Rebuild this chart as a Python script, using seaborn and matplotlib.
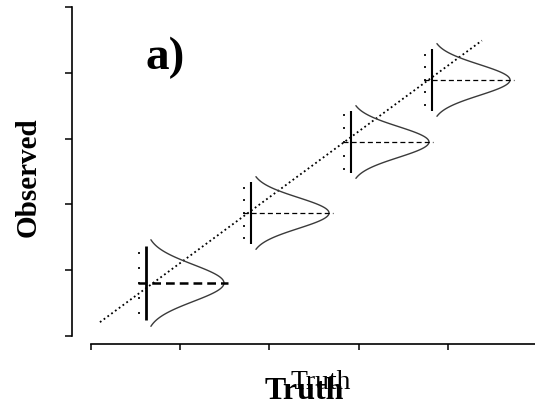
import numpy as np
import pandas as pd
import matplotlib
matplotlib.use("Agg")
import matplotlib.pyplot as plt
import seaborn as sns

# values (data units: x ticks 0..4, y ticks 0..5)
truth = [0.616, 1.793, 2.913, 3.821]        # where each density sits on the Truth axis
observed = [0.805, 1.869, 2.948, 3.891]     # mean of each observed distribution
spread = [0.28, 0.235, 0.235, 0.235]        # sd of each distribution
tick_step = [0.228, 0.193, 0.208, 0.19]     # spacing of the small dots beside each base
peak = [0.874, 0.874, 0.874, 0.874]         # height of each density curve (along x)
line_x = [0.10, 4.38]                       # extent of the 1:1 reference line
line_offset = 0.11
x_ticks = [0, 1, 2, 3, 4]
y_ticks = [0, 1, 2, 3, 4, 5]

sns.set_style("ticks")
plt.rcParams['font.family'] = ['Liberation Serif', 'DejaVu Serif']
plt.rcParams['text.color'] = 'black'
plt.rcParams['axes.labelcolor'] = 'black'

fig = plt.figure(figsize=(5.35, 4.09), dpi=100)
ax = fig.add_axes([72 / 535, (409 - 343.5) / 409, (535 - 72) / 535, (343.5 - 5) / 409])

# dotted 1:1 line
diag = pd.DataFrame({'x': line_x, 'y': [v + line_offset for v in line_x]})
sns.lineplot(data=diag, x='x', y='y', ax=ax, color='black', linestyle=(0, (1, 1.6)),
             linewidth=1.3)

for i in range(len(truth)):
    base, mu, sd = truth[i], observed[i], spread[i]
    z = np.linspace(-2.35, 2.35, 121)
    curve = pd.DataFrame({'y': mu + sd * z, 'x': base + peak[i] * np.exp(-0.5 * z ** 2)})
    sns.lineplot(data=curve, x='x', y='y', ax=ax, orient='y', sort=False,
                 color='#3a3a3a', linewidth=1.0)
    lo, hi = mu - 2.0 * sd, mu + 2.0 * sd
    ax.vlines(base, lo, hi, color='black', linewidth=2.0 if i == 0 else 1.5)
    ax.hlines(mu, base - 0.09, base + peak[i] + 0.04, color='black',
              linestyles=(0, (3.5, 2)) if i == 0 else (0, (4, 2.5)),
              linewidth=1.8 if i == 0 else 0.9)
    dots = pd.DataFrame({'x': [base - 0.08] * 5,
                         'y': [mu + k * tick_step[i] for k in (-2, -1, 0, 1, 2)]})
    sns.scatterplot(data=dots, x='x', y='y', ax=ax, marker='s', s=3.5,
                    color='#222222', linewidth=0)

ax.set_xlim(-0.213, 4.975)
ax.set_ylim(-0.114, 5.03)
ax.set_xticks(x_ticks)
ax.set_yticks(y_ticks)
ax.set_xticklabels([])
ax.set_yticklabels([])
ax.tick_params(axis='x', length=4, width=1.1, direction='out', color='black')
ax.tick_params(axis='y', length=5, width=1.1, direction='out', color='black')
sns.despine(ax=ax)
ax.spines['left'].set_bounds(0, 5)
ax.spines['bottom'].set_bounds(0, 4.975)
for s in ('left', 'bottom'):
    ax.spines[s].set_color('black')
    ax.spines[s].set_linewidth(1.2)

ax.set_ylabel('Observed', fontsize=21, fontweight='bold', va='center', ha='center',
              color='black')
ax.yaxis.set_label_coords(-0.095, 0.49)
ax.set_xlabel('Truth', fontsize=23, fontweight='bold', va='baseline', ha='center',
              color='black')
ax.xaxis.set_label_coords(0.501, -0.164)
ax.text(0.538, -0.134, 'Truth', fontsize=20, va='baseline', ha='center',
        transform=ax.transAxes, clip_on=False, color='black')
ax.text(0.158, 0.811, 'a)', fontsize=34, fontweight='bold', va='baseline', ha='left',
        transform=ax.transAxes, color='black')

fig.savefig('out.png', dpi=100, facecolor='white')
